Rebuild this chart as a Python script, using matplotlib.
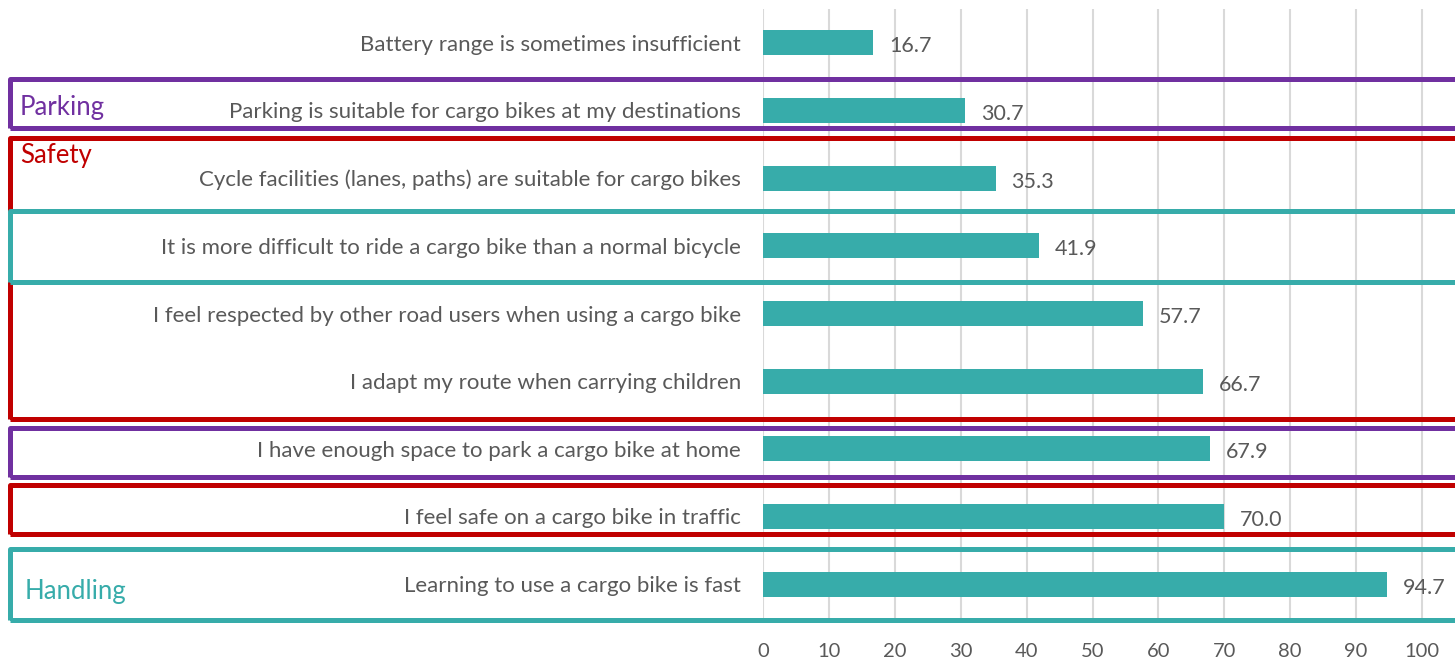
import matplotlib.pyplot as plt
from matplotlib.patches import Rectangle

statements = [
    "Battery range is sometimes insufficient",
    "Parking is suitable for cargo bikes at my destinations",
    "Cycle facilities (lanes, paths) are suitable for cargo bikes",
    "It is more difficult to ride a cargo bike than a normal bicycle",
    "I feel respected by other road users when using a cargo bike",
    "I adapt my route when carrying children",
    "I have enough space to park a cargo bike at home",
    "I feel safe on a cargo bike in traffic",
    "Learning to use a cargo bike is fast",
]
agree_pct = [16.7, 30.7, 35.3, 41.9, 57.7, 66.7, 67.9, 70.0, 94.7]

# group boxes: (colour, top px, bottom px)
groups = [
    ("#7030A0", 78.5, 127.5),
    ("#C00000", 137.5, 419),
    ("#37ACAA", 211.5, 282.5),
    ("#7030A0", 427.5, 476.5),
    ("#C00000", 484.5, 533.5),
    ("#37ACAA", 549, 620),
]

W, H = 1455, 660
plt.rcParams['font.family'] = ['Lato', 'DejaVu Sans']
grey = '#595959'
teal = '#37ACAA'

fig = plt.figure(figsize=(W / 100, H / 100), dpi=100)
ax = fig.add_axes([763 / W, 1 - 618 / H, (W - 763) / W, (618 - 9) / H])

ypos = list(range(len(statements)))
ax.barh(ypos, agree_pct, height=0.37, color=teal, zorder=3)
for y, v in zip(ypos, agree_pct):
    ax.text(v + 2.4, y + 0.05, f"{v:.1f}", va='center', ha='left', fontsize=15.5, color=grey)

ax.set_xlim(0, 105)
ax.set_ylim(len(statements) - 0.5, -0.5)
ax.set_xticks(range(0, 101, 10))
ax.set_yticks(ypos)
ax.set_yticklabels(statements, fontsize=16, color=grey)
ax.tick_params(axis='x', labelsize=14.5, labelcolor=grey, length=0, pad=18)
ax.tick_params(axis='y', length=0, pad=16)
ax.grid(axis='x', color='#D9D9D9', lw=1.5, zorder=0)
for s in ax.spines.values():
    s.set_visible(False)

for col, top, bot in groups:
    r = Rectangle((10 / W, 1 - bot / H), (W + 20) / W, (bot - top) / H,
                  transform=fig.transFigure, fill=False, edgecolor=col,
                  lw=3.6, joinstyle='round', clip_on=False, zorder=5)
    fig.add_artist(r)

fig.text(20 / W, 1 - 108 / H, "Parking", color="#7030A0", fontsize=18.5, va='center')
fig.text(20 / W, 1 - 155 / H, "Safety", color="#C00000", fontsize=18.5, va='center')
fig.text(25 / W, 1 - 591 / H, "Handling", color=teal, fontsize=18.5, va='center')

fig.savefig('out.png', dpi=100)
